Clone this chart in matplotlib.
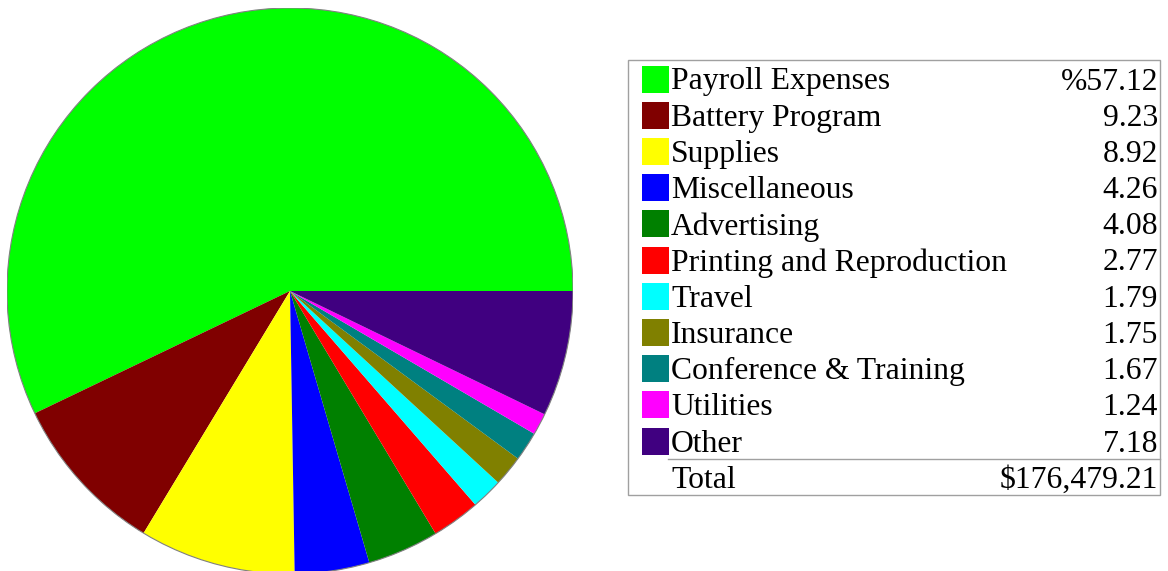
import matplotlib
matplotlib.use("Agg")
import matplotlib.pyplot as plt
from matplotlib.patches import Rectangle, Circle

# data
labels = ["Payroll Expenses", "Battery Program", "Supplies", "Miscellaneous",
          "Advertising", "Printing and Reproduction", "Travel", "Insurance",
          "Conference & Training", "Utilities", "Other"]
percents = [57.12, 9.23, 8.92, 4.26, 4.08, 2.77, 1.79, 1.75, 1.67, 1.24, 7.18]
value_labels = ["%57.12", "9.23", "8.92", "4.26", "4.08", "2.77", "1.79",
                "1.75", "1.67", "1.24", "7.18"]
colors = ["#00ff00", "#800000", "#ffff00", "#0000ff", "#008000", "#ff0000",
          "#00ffff", "#808000", "#008080", "#ff00ff", "#400080"]
total_label = "Total"
total_value = "$176,479.21"

W, H = 1168, 571
fig = plt.figure(figsize=(W / 100, H / 100), dpi=100)
plt.rcParams['font.family'] = ['Liberation Serif', 'DejaVu Serif']
fs = 22.8

# pie
cx, cy, r = 290, 291, 283
ax = fig.add_axes([(cx - r) / W, (H - cy - r) / H, 2 * r / W, 2 * r / H])
ax.pie(percents, colors=colors, startangle=0, counterclock=True,
       wedgeprops=dict(linewidth=0))
ax.add_patch(Circle((0, 0), 1, fill=False, edgecolor='#808080', linewidth=0.8))
ax.set_xlim(-1, 1)
ax.set_ylim(-1, 1)
ax.axis('off')

# legend table, drawn in pixel coordinates
lg = fig.add_axes([0, 0, 1, 1])
lg.set_xlim(0, W)
lg.set_ylim(H, 0)
lg.axis('off')
lg.patch.set_alpha(0)

lg.add_patch(Rectangle((628, 60), 532, 435, fill=False, edgecolor='#a0a0a0', linewidth=1))
row0, step = 79, 36.2
for i, (lab, val, c) in enumerate(zip(labels, value_labels, colors)):
    y = row0 + i * step
    lg.add_patch(Rectangle((642, y - 13.5), 27, 27, facecolor=c, edgecolor='none'))
    lg.text(671, y + 3, lab, fontsize=fs, va='center', ha='left')
    lg.text(1158, y + 3, val, fontsize=fs, va='center', ha='right')

lg.plot([668, 1160], [459, 459], color='#a0a0a0', linewidth=1)
ty = row0 + 11 * step
lg.text(671, ty + 3, total_label, fontsize=fs, va='center', ha='left')
lg.text(1158, ty + 3, total_value, fontsize=fs, va='center', ha='right')

fig.savefig('out.png', dpi=100)
